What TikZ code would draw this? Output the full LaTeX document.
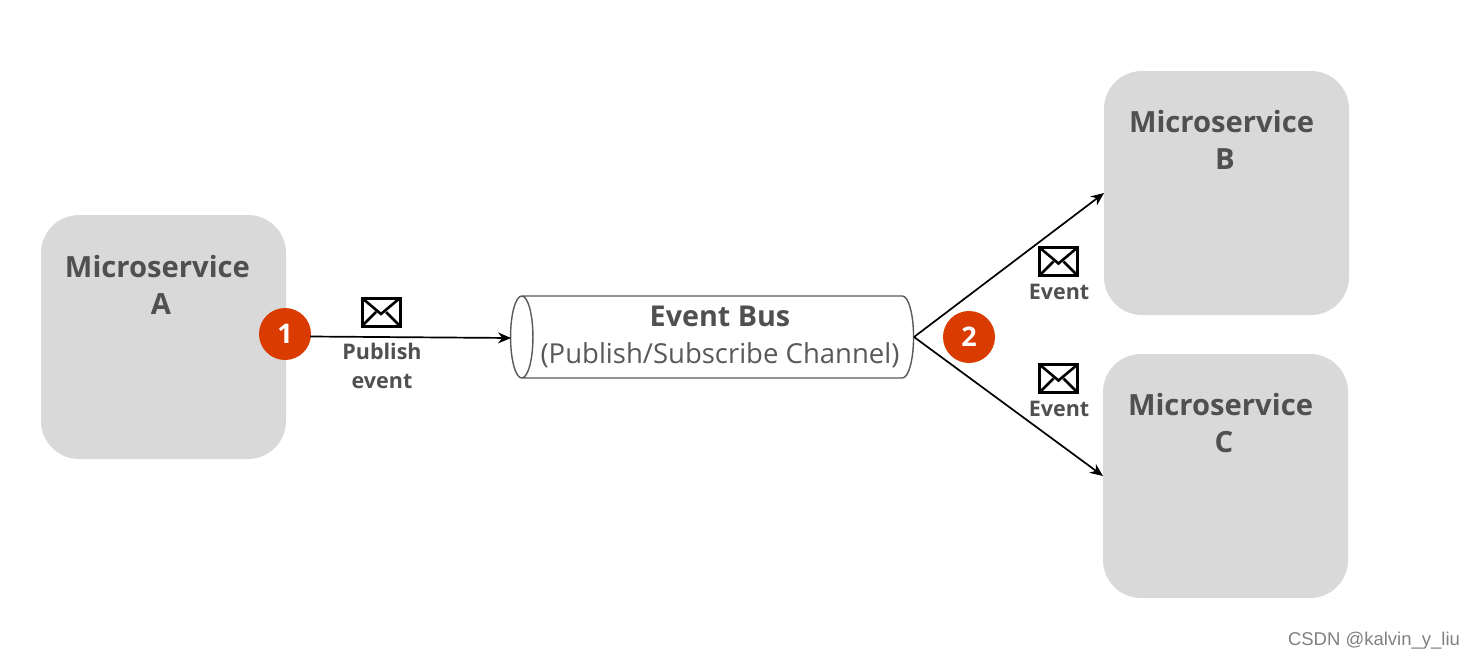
\documentclass[tikz,border=0pt]{standalone}
\usepackage{fontspec}
\setmainfont{Open Sans}
\newfontfamily\wmfont{Liberation Sans}
\usetikzlibrary{arrows.meta,shapes.geometric}
\definecolor{sc}{HTML}{D9D9D9}
\definecolor{tc}{HTML}{505050}
\definecolor{bc}{HTML}{DA3B01}
\definecolor{lc}{HTML}{595959}
\tikzset{svc/.style={fill=sc,rounded corners=38pt,minimum width=245pt,minimum height=244pt,inner sep=0pt},
 svctxt/.style={text=tc,align=center,font=\fontsize{29.2}{37}\selectfont\bfseries,inner sep=0pt},
 badge/.style={circle,fill=bc,text=white,minimum size=52pt,inner sep=0pt,font=\fontsize{27}{30}\selectfont\bfseries},
 msg/.style={text=tc,align=center,font=\fontsize{21.5}{28.5}\selectfont\bfseries,inner sep=0pt},
 env/.style={draw=black,line width=3pt,minimum width=38pt,minimum height=28pt,inner sep=0pt,
  path picture={\draw[line width=2.6pt] (path picture bounding box.north west)--++(19pt,-16pt)--(path picture bounding box.north east);
   \draw[line width=2.6pt] (path picture bounding box.south west)--++(14pt,14pt);
   \draw[line width=2.6pt] (path picture bounding box.south east)--++(-14pt,14pt);}},
 arr/.style={-{Stealth[length=13pt,width=11pt]},line width=1.7pt}}
\begin{document}
\begin{tikzpicture}[x=1pt,y=-1pt]
\useasboundingbox (0,0) rectangle (1474,661);
\node[svc] (svcA) at (163.5,337) {};\node[svc] (svcB) at (1226.5,193) {};\node[svc] (svcC) at (1225.5,476) {};
\node[svctxt] (txtA) at (161,285) {Microservice\hspace*{7pt}\\A};
\node[svctxt] (txtB) at (1225,140) {Microservice\hspace*{7pt}\\B};
\node[svctxt] (txtC) at (1224,423) {Microservice\hspace*{7pt}\\C};
% bus
\node[cylinder,shape border rotate=180,draw=lc,line width=1.4pt,fill=white,minimum width=82pt,minimum height=403pt,shape aspect=.28,inner sep=0pt] (bus) at (718,337) {\rule{0pt}{80pt}};
\node[align=center,inner sep=0pt,text=tc,font=\fontsize{27.5}{37}\selectfont] (bustxt) at (720,336.5) {{\fontsize{28.7}{37}\selectfont\bfseries Event Bus}\\{\color{lc}(Publish/Subscribe Channel)}};
\coordinate (pubout) at (310,336.5);\coordinate (busin) at (511,338);\coordinate (busout) at (914,337);
\coordinate (inB) at (1104,193);\coordinate (inC) at (1103,476);
\node[badge] (one) at (285,334) {1};\node[badge] (two) at (969,337) {2};
\draw[arr] (pubout)--(busin);
\draw[arr] (busout)--(inB);\draw[arr] (busout)--(inC);
\node[env] (envA) at (381,312) {};\node[env] (envB) at (1058.5,261.5) {};\node[env] (envC) at (1058.5,378.5) {};
\node[msg] (pub) at (382,366) {Publish\\event};
\node[msg] (evB) at (1059,292) {Event};\node[msg] (evC) at (1059,409) {Event};
\node[text=gray,font=\wmfont\fontsize{18.5}{20}\selectfont,inner sep=0pt] (wm) at (1374,641) {CSDN @kalvin\_y\_liu};
\end{tikzpicture}
\end{document}
